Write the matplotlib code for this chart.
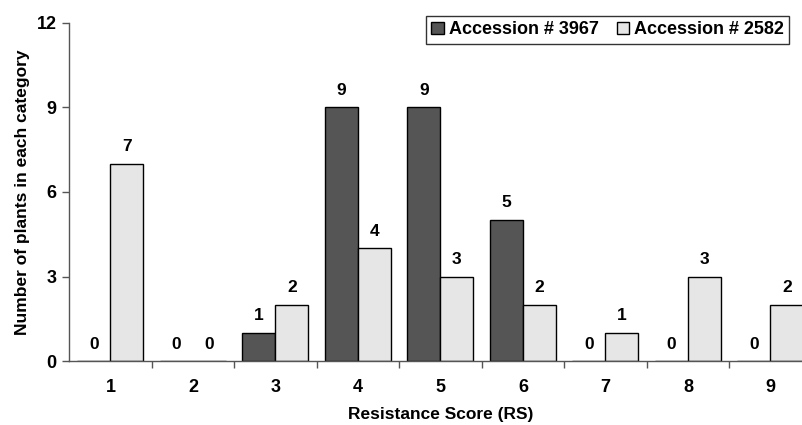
import numpy as np
import matplotlib
matplotlib.use("Agg")
import matplotlib.pyplot as plt
from matplotlib.ticker import FixedLocator

plt.rcParams['font.family'] = ['Liberation Sans', 'DejaVu Sans']
plt.rcParams['font.weight'] = 'bold'

scores = ["1", "2", "3", "4", "5", "6", "7", "8", "9"]
acc_3967 = [0, 0, 1, 9, 9, 5, 0, 0, 0]
acc_2582 = [7, 0, 2, 4, 3, 2, 1, 3, 2]
series_names = ["Accession # 3967", "Accession # 2582"]
y_ticks = [0, 3, 6, 9, 12]

W, H = 802, 425
fig = plt.figure(figsize=(W / 100, H / 100), dpi=100)
left, right = 69.2 / W, 811.7 / W
bottom, top = 1 - 361.3 / H, 1 - 22.7 / H
ax = fig.add_axes([left, bottom, right - left, top - bottom])

x = np.arange(1, len(scores) + 1)
bw = 0.4
dark, light = "#555555", "#e6e6e6"
b1 = ax.bar(x - bw / 2, acc_3967, width=bw, color=dark, edgecolor="black",
            linewidth=1.0, label=series_names[0])
b2 = ax.bar(x + bw / 2, acc_2582, width=bw, color=light, edgecolor="black",
            linewidth=1.0, label=series_names[1])

for bars, vals in ((b1, acc_3967), (b2, acc_2582)):
    for r, v in zip(bars, vals):
        ax.annotate(str(v), (r.get_x() + r.get_width() / 2, v),
                    xytext=(0, 7), textcoords="offset points",
                    ha="center", va="bottom", fontsize=12.5, fontweight="bold")

ax.set_xlim(0.5, len(scores) + 0.5)
ax.set_ylim(0, 12)
ax.set_yticks(y_ticks)
ax.set_xticks(x)
ax.set_xticklabels(scores)
ax.xaxis.set_minor_locator(FixedLocator(np.arange(1.5, len(scores) + 0.5, 1)))
ax.tick_params(axis="x", which="major", length=0, pad=13, labelsize=13)
ax.tick_params(axis="x", which="minor", length=5, width=1, color="#555555",
               direction="out")
ax.tick_params(axis="y", length=5, width=1, color="#555555", labelsize=13,
               pad=4)
for lab in ax.get_xticklabels() + ax.get_yticklabels():
    lab.set_fontweight("bold")

for s in ("top", "right"):
    ax.spines[s].set_visible(False)
for s in ("left", "bottom"):
    ax.spines[s].set_color("#555555")
    ax.spines[s].set_linewidth(1.0)

ax.set_xlabel("Resistance Score (RS)", fontsize=12.5, fontweight="bold",
              labelpad=8)
ax.set_ylabel("Number of plants in each category", fontsize=12.5,
              fontweight="bold", labelpad=5)

leg = fig.legend(loc="upper right", bbox_to_anchor=(789 / W, 1 - 16 / H),
                 ncol=2, frameon=True, fancybox=False, edgecolor="black",
                 fontsize=13, handlelength=0.7, handleheight=0.7,
                 handletextpad=0.25, columnspacing=1.0, borderpad=0.3,
                 borderaxespad=0)
leg.get_frame().set_linewidth(1.0)
for t in leg.get_texts():
    t.set_fontweight("bold")

fig.savefig("out.png", dpi=100)
